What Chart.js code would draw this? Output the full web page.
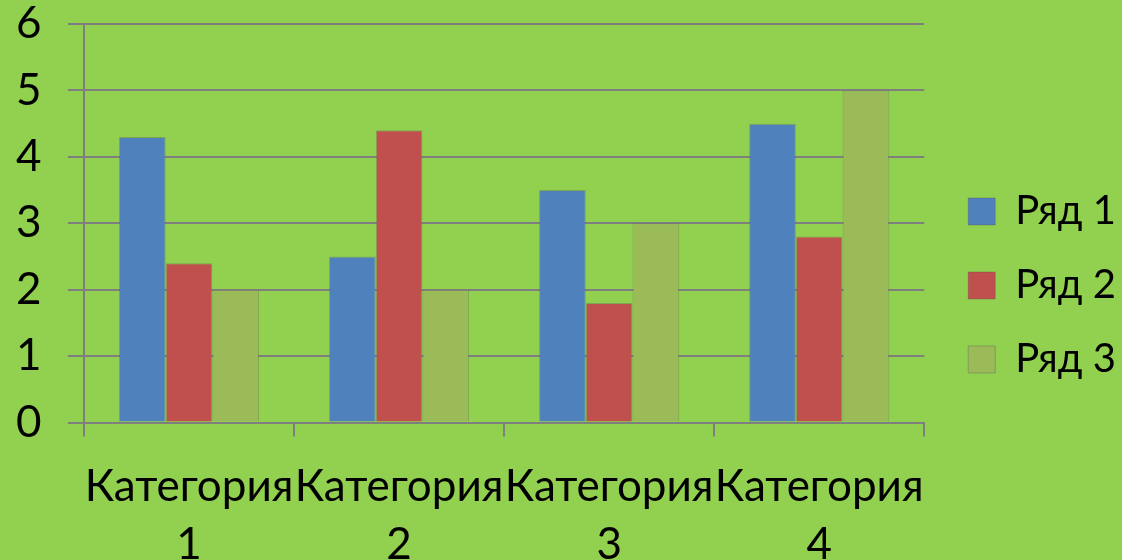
<!DOCTYPE html>
<html>
<head>
<meta charset="utf-8">
<script src="https://cdn.jsdelivr.net/npm/chart.js@4"></script>
<style>
  body { margin: 0; background: #92d050; }
  #chart { display: block; }
</style>
</head>
<body>
<canvas id="chart" width="1122" height="560"></canvas>
<script>
const categories = ["Категория 1", "Категория 2", "Категория 3", "Категория 4"];
const seriesNames = ["Ряд 1", "Ряд 2", "Ряд 3"];
const row1 = [4.3, 2.5, 3.5, 4.5];
const row2 = [2.4, 4.4, 1.8, 2.8];
const row3 = [2.0, 2.0, 3.0, 5.0];
const colors = ["#4f81bd", "#c0504d", "#9bbb59"];

const family = "Lato, 'Noto Sans', sans-serif";

// nudge the legend a bit up and right, like the original
const legendNudge = {
  id: "legendNudge",
  afterLayout: function (chart) {
    const lg = chart.legend;
    lg.top -= 12;
    lg.bottom -= 12;
    lg.left += 10;
    lg.right += 10;
  },
};

new Chart(document.getElementById("chart"), {
  type: "bar",
  data: {
    labels: categories,
    datasets: [row1, row2, row3].map(function (vals, i) {
      return {
        label: seriesNames[i],
        data: vals,
        backgroundColor: colors[i],
        borderColor: "rgba(90,90,90,0.35)",
        borderWidth: 1,
        categoryPercentage: 0.667,
        barPercentage: 1.0,
      };
    }),
  },
  plugins: [legendNudge],
  options: {
    responsive: false,
    devicePixelRatio: 1,
    animation: false,
    layout: { padding: { top: 0, left: 16, right: 6, bottom: -35 } },
    plugins: {
      tooltip: { enabled: false },
      legend: {
        position: "right",
        labels: {
          color: "#000",
          font: { family: family, size: 40, lineHeight: 1 },
          boxWidth: 27,
          boxHeight: 27,
          padding: 34,
        },
      },
    },
    scales: {
      x: {
        grid: {
          drawOnChartArea: false,
          color: "#7f7f7f",
          tickLength: 14,
          lineWidth: 2,
        },
        border: { color: "#7f7f7f", width: 2 },
        ticks: {
          color: "#000",
          font: { family: family, size: 44, lineHeight: 1.3 },
          autoSkip: false,
          maxRotation: 0,
          padding: 22,
          callback: function (v, i) {
            return categories[i].split(" ");
          },
        },
      },
      y: {
        min: 0,
        max: 6,
        afterFit: function (scale) {
          scale.width = 68;
        },
        grid: { color: "#7f7f7f", tickLength: 16, lineWidth: 2 },
        border: { color: "#7f7f7f", width: 2 },
        ticks: {
          color: "#000",
          font: { family: family, size: 44, lineHeight: 1 },
          stepSize: 1,
          autoSkip: false,
          crossAlign: "far",
          padding: 2,
        },
      },
    },
  },
});
</script>
</body>
</html>
